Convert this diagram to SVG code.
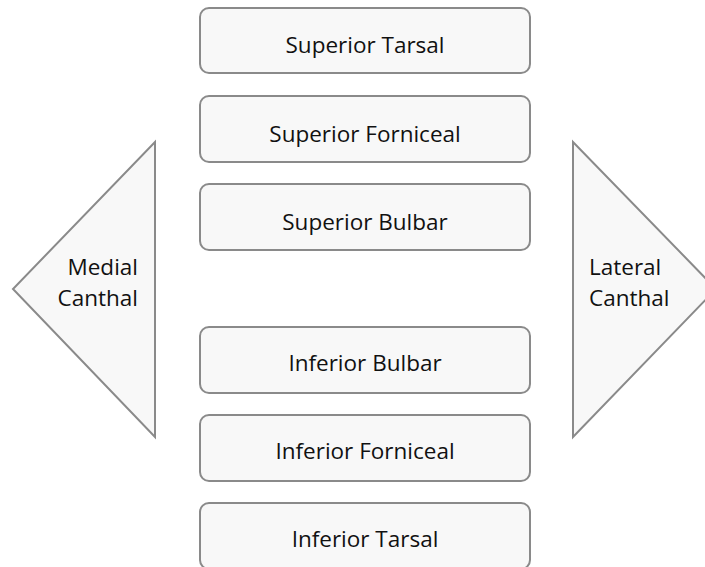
<svg xmlns="http://www.w3.org/2000/svg" width="705" height="567" viewBox="0 0 705 567">
  <style>
    .box { fill: #f8f8f8; stroke: #8a8a8a; stroke-width: 2; }
    .lbl { font-family: "Open Sans", "Noto Sans", "Liberation Sans", sans-serif; font-size: 22.5px; fill: #111111; }
    .c { text-anchor: middle; }
  </style>
  <rect width="705" height="567" fill="#ffffff"/>
  <g id="superior-tarsal">
    <rect class="box" x="200" y="8" width="330" height="65" rx="9"/>
    <text class="lbl c" x="365" y="53">Superior Tarsal</text>
  </g>
  <g id="superior-forniceal">
    <rect class="box" x="200" y="96" width="330" height="66" rx="9"/>
    <text class="lbl c" x="365" y="141.5">Superior Forniceal</text>
  </g>
  <g id="superior-bulbar">
    <rect class="box" x="200" y="184" width="330" height="66" rx="9"/>
    <text class="lbl c" x="365" y="229.5">Superior Bulbar</text>
  </g>
  <g id="inferior-bulbar">
    <rect class="box" x="200" y="327" width="330" height="66" rx="9"/>
    <text class="lbl c" x="365" y="371">Inferior Bulbar</text>
  </g>
  <g id="inferior-forniceal">
    <rect class="box" x="200" y="415" width="330" height="66" rx="9"/>
    <text class="lbl c" x="365" y="459">Inferior Forniceal</text>
  </g>
  <g id="inferior-tarsal">
    <rect class="box" x="200" y="503" width="330" height="66" rx="9"/>
    <text class="lbl c" x="365" y="547">Inferior Tarsal</text>
  </g>
  <g id="medial-canthal">
    <polygon class="box" points="155,142 155,437 13,289"/>
    <text class="lbl" x="138" y="274.5" text-anchor="end">Medial</text>
    <text class="lbl" x="138" y="305.5" text-anchor="end">Canthal</text>
  </g>
  <g id="lateral-canthal">
    <polygon class="box" points="573,142 573,437 716,289"/>
    <text class="lbl" x="589" y="274.5">Lateral</text>
    <text class="lbl" x="589" y="305.5">Canthal</text>
  </g>
  <g id="connectors"/>
</svg>
